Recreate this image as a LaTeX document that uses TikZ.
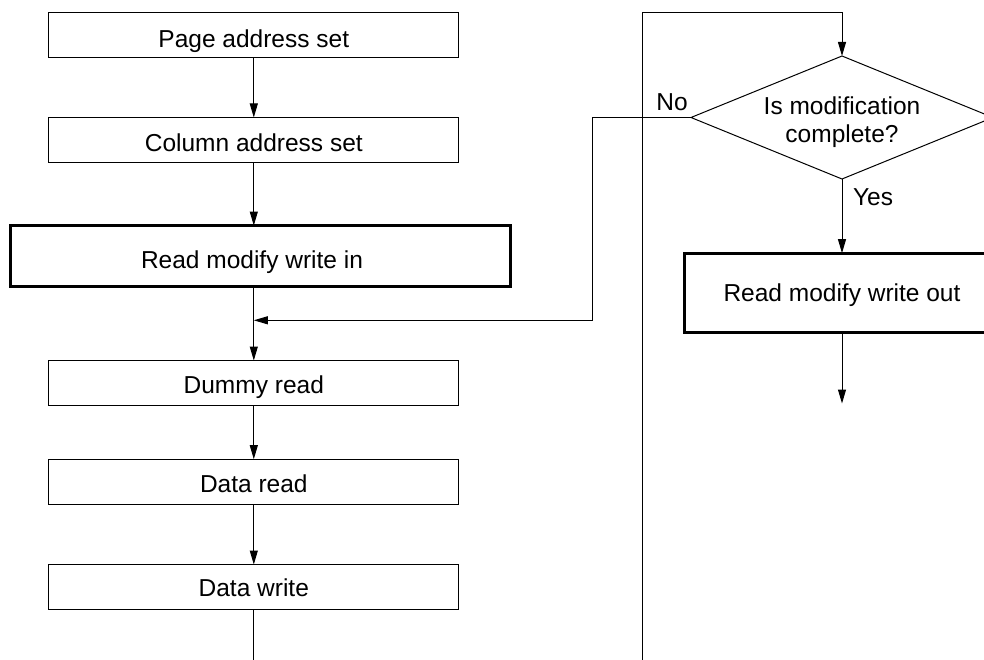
\documentclass[tikz,border=0pt]{standalone}
\usepackage{fontspec}
\setmainfont{Liberation Sans}
\usetikzlibrary{arrows.meta,shapes.geometric}
\begin{document}
\begin{tikzpicture}[x=1bp,y=-1bp,
  font=\fontsize{24.5bp}{28.3bp}\selectfont,
  every node/.style={inner sep=0pt, outer sep=0pt},
  tb/.style={text height=#1, text depth=0bp},
  box/.style={draw, line width=1bp, minimum width=410bp, minimum height=45bp},
  thickbox/.style={draw, line width=3bp},
  lbl/.style={text height=17.6bp, text depth=0bp},
  arr/.style={-{Triangle[length=14bp,width=8bp]}},
  conn/.style={line width=1bp}]
\useasboundingbox (0,0) rectangle (984,660);
\clip (0,0) rectangle (984,660);

% left column
\node[box, tb=25bp] (page) at (253.8,35) {Page address set};
\node[box, tb=23.4bp] (col) at (253.8,140) {Column address set};
\node[thickbox, minimum width=499.4bp, minimum height=61.3bp] (rmwin) at (260.5,256.2) {};
\node[tb=24.2bp] (rmwinT) at (252,256.2) {Read modify write in};
\node[box, tb=20.8bp] (dummy) at (253.8,383) {Dummy read};
\node[box, tb=21.2bp] (dread) at (253.8,481.7) {Data read};
\node[box, tb=18.4bp] (dwrite) at (253.8,587) {Data write};

% right column
\node[diamond, draw, line width=1bp, minimum width=302bp, minimum height=123bp,
      aspect=2.45] (dec) at (842,117.5) {};
\node[anchor=base] (decT1) at (842,114.3) {Is modification};
\node[anchor=base] (decT2) at (842,142.7) {complete?};
\node[thickbox, tb=17.8bp, minimum width=314.7bp, minimum height=79.3bp] (rmwout) at (842,292.8) {Read modify write out};
\node[lbl] (no) at (672,101.3) {No};
\node[lbl] (yes) at (873,196.2) {Yes};

% coordinates
\coordinate (m) at (253.8,320.3);
\coordinate (nobend) at (592.3,320.3);
\coordinate (loopstart) at (642.3,660);
\coordinate (looptop) at (642.3,12.3);
\coordinate (leftend) at (253.8,660);
\coordinate (outend) at (842,403.5);

% connectors
\draw[conn,arr] (page.south) -- (col.north);
\draw[conn,arr] (col.south) -- (col.south |- rmwin.north);
\draw[conn,arr] (rmwin.south -| col.south) -- (dummy.north);
\draw[conn,arr] (dummy.south) -- (dread.north);
\draw[conn,arr] (dread.south) -- (dwrite.north);
\draw[conn] (dwrite.south) -- (leftend);
\draw[conn,arr] (dec.west) -| (nobend) -- (m);
\draw[conn,arr] (loopstart) -- (looptop) -| (dec.north);
\draw[conn,arr] (dec.south) -- (rmwout.north);
\draw[conn,arr] (rmwout.south) -- (outend);
\end{tikzpicture}
\end{document}
